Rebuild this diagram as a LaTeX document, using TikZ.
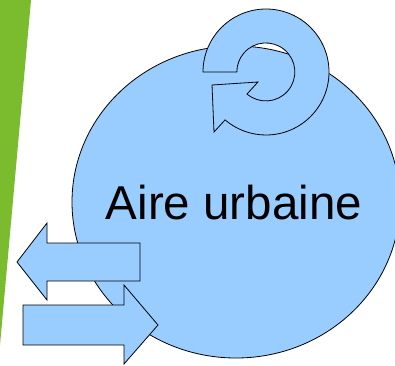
\documentclass[tikz,border=0pt]{standalone}
\usepackage{fontspec}
\setmainfont{Liberation Sans}
\definecolor{bleuville}{HTML}{99CCFF}
\definecolor{vertbande}{HTML}{7BBB2E}
\begin{document}
\begin{tikzpicture}[x=1pt,y=1pt,line join=miter,
	forme/.style={draw=black,line width=0.8pt,fill=bleuville}]
	\useasboundingbox (0,0) rectangle (395,-365);
	\clip (0,0) rectangle (395,-365);
	\fill[vertbande] (0,0)--(31,0)--(0,-345)--cycle;
	\draw[forme] (236,-202) ellipse (164 and 156);
	\node[font=\fontsize{47.5}{50}\selectfont,anchor=base,inner sep=0pt] (aire) at (234,-219) {Aire urbaine};
	% boucle interne
	\draw[forme] (203,-72) arc[start angle=180,end angle=-130.5,radius=63]
		--(214,-132)--(212,-85)--(258,-82)--(247,-94)
		arc[start angle=-130.5,end angle=180,radius=29]--cycle;
	% echanges avec l'exterieur
	\draw[forme] (140,-243)--(47,-243)--(47,-223)--(17,-262)--(47,-300)--(47,-281)--(140,-281)--cycle;
	\draw[forme] (23,-305)--(124,-305)--(124,-285)--(158,-325)--(124,-364)--(124,-345)--(23,-345)--cycle;
\end{tikzpicture}
\end{document}
